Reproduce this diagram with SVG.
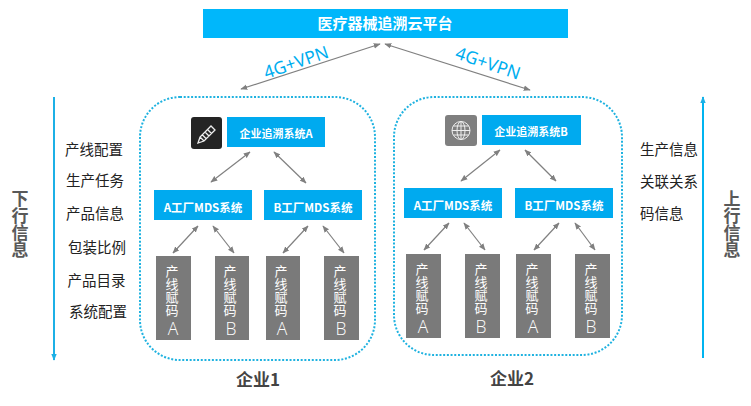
<svg xmlns="http://www.w3.org/2000/svg" width="751" height="406" viewBox="0 0 751 406">
<style>
text{font-family:"Noto Sans CJK SC","Liberation Sans",sans-serif}
.bx{fill:#00aaef}
.bt{fill:#fff;font-size:11px;font-weight:700;text-anchor:middle}
.mt{fill:#fff;font-size:11.500px;font-weight:700;text-anchor:middle}
.gy{fill:#7a7a7a}
.gt{fill:#fff;font-size:13px;writing-mode:vertical-rl;text-orientation:upright}
.gl{fill:#fff;font-size:17.500px;font-weight:300;text-anchor:middle;font-family:"Open Sans","Liberation Sans",sans-serif}
.cn{fill:none;stroke:#1fb2e0;stroke-width:2;stroke-dasharray:2 1.700}
.ar{stroke:#808080;stroke-width:1.200;fill:none;marker-start:url(#g);marker-end:url(#g)}
.vpn{fill:#00aeef;font-size:17.500px;font-family:"Noto Sans","Liberation Sans",sans-serif;text-anchor:middle}
.sd{fill:#222;font-size:14.500px}
.vt{fill:#595959;font-size:17px;font-weight:700;writing-mode:vertical-rl;text-orientation:upright}
.ent{fill:#444;font-size:17px;font-weight:700;text-anchor:middle}
</style>
<defs>
<marker id="g" viewBox="0 0 10 8" refX="9" refY="4" markerWidth="7" markerHeight="6" orient="auto-start-reverse" markerUnits="userSpaceOnUse"><path d="M0 0L10 4L0 8z" fill="#808080"/></marker>
<marker id="b" viewBox="0 0 10 8" refX="9" refY="4" markerWidth="7" markerHeight="6" orient="auto" markerUnits="userSpaceOnUse"><path d="M0 0L10 4L0 8z" fill="#1cb0e6"/></marker>
</defs>
<g id="platform"><rect x="203" y="9" width="365" height="29" fill="#00b7fb"/><text x="385" y="29" fill="#fff" font-size="15" font-weight="700" text-anchor="middle">医疗器械追溯云平台</text></g>
<g id="enterprise1"><rect class="cn" x="140" y="97" width="235" height="263" rx="40"/><text class="ent" x="258" y="386">企业1</text></g>
<g id="enterprise2"><rect class="cn" x="394" y="97" width="228" height="258" rx="40"/><text class="ent" x="512" y="385">企业2</text></g>
<g id="icon-pencil"><rect x="191" y="117" width="31" height="32" rx="3" fill="#242424"/><path d="M198 143l2-6 11-11 4 4-11 11zM200 137l4 4M202 134.500l4 4M205 132l4 4M207.500 129.500l4 4" fill="none" stroke="#eee" stroke-width="1.300"/></g>
<g id="icon-globe"><rect x="445" y="115" width="32" height="31" rx="3" fill="#7f7f7f"/><g fill="none" stroke="#eee" stroke-width="1"><circle cx="461" cy="130.500" r="9"/><ellipse cx="461" cy="130.500" rx="4" ry="9"/><path d="M461 121.500v18M452 130.500h18M453.500 126h15M453.500 135h15"/></g></g>
<g id="sysA"><rect class="bx" x="227" y="117" width="98" height="30"/><text class="bt" x="276" y="138">企业追溯系统A</text></g>
<g id="sysB"><rect class="bx" x="482" y="115" width="99" height="30"/><text class="bt" x="531" y="136">企业追溯系统B</text></g>
<g id="mds1a"><rect class="bx" x="154" y="190" width="98" height="30"/><text class="mt" x="203" y="212">A工厂MDS系统</text></g>
<g id="mds1b"><rect class="bx" x="264" y="190" width="98" height="30"/><text class="mt" x="313" y="212">B工厂MDS系统</text></g>
<g id="mds2a"><rect class="bx" x="404" y="188" width="98" height="30"/><text class="mt" x="453" y="210">A工厂MDS系统</text></g>
<g id="mds2b"><rect class="bx" x="515" y="188" width="98" height="30"/><text class="mt" x="564" y="210">B工厂MDS系统</text></g>
<g id="line1"><rect class="gy" x="156" y="256" width="35" height="84"/><text class="gt" x="172" y="265">产线赋码</text><text class="gl" x="173" y="335">A</text></g>
<g id="line2"><rect class="gy" x="215" y="256" width="34" height="84"/><text class="gt" x="230" y="265">产线赋码</text><text class="gl" x="231" y="335">B</text></g>
<g id="line3"><rect class="gy" x="266" y="256" width="34" height="84"/><text class="gt" x="281" y="265">产线赋码</text><text class="gl" x="282" y="335">A</text></g>
<g id="line4"><rect class="gy" x="324" y="256" width="35" height="84"/><text class="gt" x="340" y="265">产线赋码</text><text class="gl" x="341" y="335">B</text></g>
<g id="line5"><rect class="gy" x="406" y="254" width="35" height="84"/><text class="gt" x="422" y="263">产线赋码</text><text class="gl" x="423" y="333">A</text></g>
<g id="line6"><rect class="gy" x="465" y="254" width="35" height="84"/><text class="gt" x="481" y="263">产线赋码</text><text class="gl" x="481" y="333">B</text></g>
<g id="line7"><rect class="gy" x="516" y="254" width="35" height="84"/><text class="gt" x="532" y="263">产线赋码</text><text class="gl" x="533" y="333">A</text></g>
<g id="line8"><rect class="gy" x="575" y="254" width="35" height="84"/><text class="gt" x="591" y="263">产线赋码</text><text class="gl" x="591" y="333">B</text></g>
<g id="connectors">
<path class="ar" d="M241 89L380 44"/><path class="ar" d="M530 90L385 44"/>
<path class="ar" d="M211 182L250 152"/><path class="ar" d="M306 183L274 152"/>
<path class="ar" d="M461 181L500 150"/><path class="ar" d="M556 181L525 150"/>
<path class="ar" d="M173 253L198 226"/><path class="ar" d="M234 253L213 226"/>
<path class="ar" d="M283 253L308 226"/><path class="ar" d="M344 253L323 226"/>
<path class="ar" d="M424 250L449 223"/><path class="ar" d="M485 250L464 223"/>
<path class="ar" d="M534 250L559 223"/><path class="ar" d="M595 250L575 223"/>
<path d="M54 97V360" stroke="#1cb0e6" stroke-width="2" marker-end="url(#b)" fill="none"/>
<path d="M703 358V97" stroke="#00b4f0" stroke-width="2" marker-end="url(#b)" fill="none"/>
</g>
<text class="vpn" transform="translate(298 68) rotate(-19)">4G+VPN</text>
<text class="vpn" transform="translate(486 69) rotate(19)">4G+VPN</text>
<g id="down-list"><text class="sd" x="65" y="155">产线配置</text><text class="sd" x="66" y="186">生产任务</text><text class="sd" x="66" y="219">产品信息</text><text class="sd" x="68" y="253">包装比例</text><text class="sd" x="67.500" y="286">产品目录</text><text class="sd" x="69" y="317">系统配置</text></g>
<g id="up-list"><text class="sd" x="640" y="155">生产信息</text><text class="sd" x="640" y="187">关联关系</text><text class="sd" x="640" y="219">码信息</text></g>
<g id="down-label"><text class="vt" x="20" y="190">下行信息</text></g>
<g id="up-label"><text class="vt" x="732" y="190">上行信息</text></g>
</svg>
